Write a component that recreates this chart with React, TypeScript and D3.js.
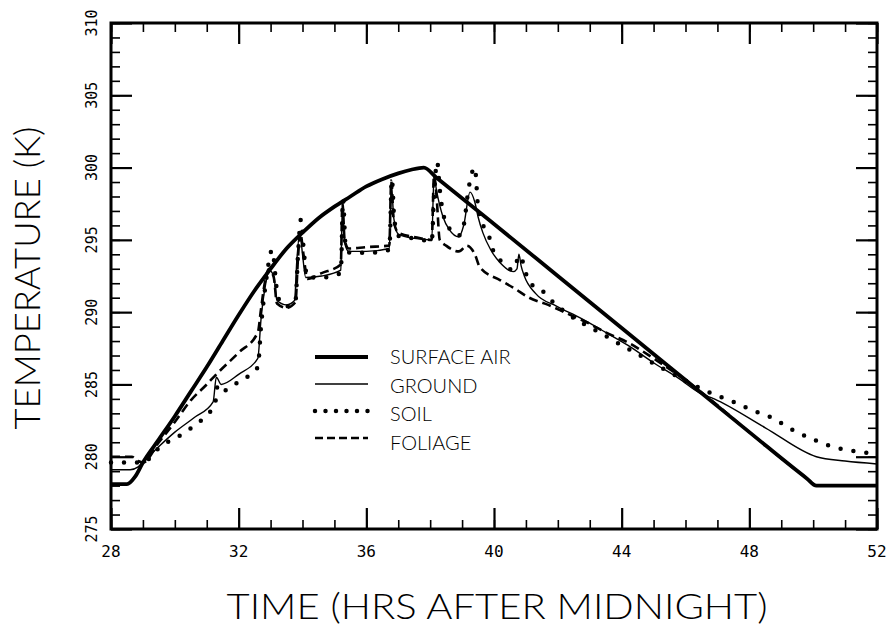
import * as d3 from "d3";
import { useEffect, useRef } from "react";

// axis ticks
const hourTicks = [28, 32, 36, 40, 44, 48, 52];
const tempTicks = [275, 280, 285, 290, 295, 300, 305, 310];

// surface air (thick solid)
const airHours = [28, 28.5, 28.75, 29, 29.5, 30, 30.5, 31, 31.5, 32, 32.5, 33, 33.5, 34, 34.5, 35, 35.5, 36, 36.5, 37, 37.4, 37.8, 38.2, 40, 42, 44, 46, 48, 49.8, 50.1, 52];
const airTemps = [278.1, 278.1, 278.6, 279.6, 281.2, 282.8, 284.5, 286.2, 288.0, 289.8, 291.5, 293.0, 294.4, 295.5, 296.5, 297.3, 298.0, 298.7, 299.2, 299.6, 299.85, 300.0, 299.3, 296.1, 292.5, 288.9, 285.3, 281.7, 278.5, 278.0, 278.0];

// ground (thin solid)
const groundHours = [28, 28.6, 28.85, 29, 29.5, 30, 30.6, 31.2, 31.3, 31.45, 32, 32.6, 32.7, 32.85, 32.95, 33.1, 33.2, 33.5, 33.75, 33.82, 33.92, 34, 34.1, 34.6, 35.2, 35.25, 35.32, 35.45, 36, 36.72, 36.78, 36.86, 37, 37.5, 38.05, 38.12, 38.2, 38.4, 38.6, 38.9, 39.05, 39.25, 39.4, 39.5, 39.65, 39.9, 40.2, 40.6, 40.72, 40.78, 40.85, 40.95, 41.3, 41.97, 42.7, 43.5, 44.2, 45, 45.8, 46.45, 46.9, 48.5, 50.1, 51, 52];
const groundTemps = [279.1, 279.1, 279.3, 279.6, 280.7, 281.7, 282.7, 283.8, 285.5, 285.0, 285.7, 286.8, 289.5, 292.0, 292.9, 292.5, 290.8, 290.5, 290.8, 293.5, 295.5, 294.0, 292.4, 292.5, 292.9, 297.5, 294.8, 294.2, 294.2, 294.4, 299.0, 296.5, 295.4, 295.1, 295.0, 299.4, 298.4, 296.6, 295.7, 295.2, 296.0, 298.3, 297.6, 296.6, 295.5, 294.3, 293.4, 292.8, 293.0, 294.0, 293.2, 292.5, 291.3, 290.4, 289.6, 288.6, 287.7, 286.5, 285.4, 284.4, 284.0, 282.0, 280.0, 279.7, 279.5];

// soil (dotted)
const soilHours = [28, 28.7, 29, 29.5, 30.4, 31.1, 31.25, 31.35, 31.6, 32, 32.6, 32.7, 32.85, 33.05, 33.2, 33.35, 33.6, 33.78, 33.86, 33.95, 34.05, 34.15, 34.6, 35.2, 35.27, 35.35, 35.5, 36, 36.72, 36.8, 36.88, 37.05, 37.5, 38.05, 38.12, 38.22, 38.3, 38.4, 38.6, 38.9, 39.05, 39.2, 39.4, 39.5, 39.7, 39.85, 40, 40.3, 40.6, 40.8, 41.1, 41.5, 41.85, 42.3, 42.8, 43.3, 43.85, 44.5, 45.2, 45.8, 46.4, 46.9, 47.5, 48.1, 48.7, 49.4, 50, 50.6, 51.25, 52];
const soilTemps = [279.6, 279.6, 279.6, 280.6, 281.8, 283.1, 283.5, 285.0, 284.6, 285.2, 286.2, 289.0, 292.0, 294.3, 291.5, 290.5, 290.4, 290.8, 294.0, 296.4, 294.0, 292.4, 292.4, 292.7, 297.8, 294.6, 294.1, 294.1, 294.3, 299.2, 296.3, 295.2, 295.1, 294.9, 298.0, 300.4, 298.5, 296.9, 295.8, 295.3, 296.0, 298.5, 300.0, 297.3, 295.8, 295.2, 294.1, 293.4, 292.9, 293.9, 292.1, 291.5, 290.7, 289.9, 289.2, 288.6, 287.9, 287.1, 286.2, 285.5, 284.8, 284.3, 283.8, 283.2, 282.7, 281.8, 281.2, 280.7, 280.4, 280.2];

// foliage (dashed)
const foliageHours = [28, 28.65, 28.85, 29, 29.5, 30, 30.5, 31, 31.3, 32, 32.6, 32.7, 32.8, 32.95, 33.1, 33.2, 33.5, 33.78, 33.86, 33.93, 34.03, 34.15, 34.6, 35.2, 35.25, 35.32, 35.45, 36, 36.72, 36.78, 36.86, 37, 37.5, 38.05, 38.12, 38.2, 38.3, 38.5, 38.9, 39.15, 39.4, 39.56, 40.2, 40.6, 41.1, 41.7, 42.3, 42.9, 43.5, 44.2, 45, 45.8, 46.3, 48, 49.8, 50.1, 52];
const foliageTemps = [280.0, 280.0, 279.7, 279.6, 281.0, 282.4, 283.9, 285.0, 285.7, 287.2, 288.6, 290.2, 291.8, 293.0, 292.4, 290.6, 290.3, 290.7, 293.8, 295.5, 294.0, 292.3, 292.7, 293.3, 297.6, 295.0, 294.4, 294.5, 294.6, 299.1, 296.3, 295.5, 295.2, 295.0, 299.5, 298.0, 295.0, 294.6, 294.2, 294.6, 294.0, 293.1, 292.2, 291.7, 291.0, 290.5, 289.9, 289.3, 288.6, 287.9, 286.8, 285.6, 284.8, 281.7, 278.5, 278.0, 278.0];

const seriesNames = ["SURFACE AIR", "GROUND", "SOIL", "FOLIAGE"];

const FONT = "Lato, 'DejaVu Sans', sans-serif";
const MONO = "'DejaVu Sans Mono', monospace";

export default function App() {
  const ref = useRef<SVGSVGElement>(null);

  useEffect(() => {
    const svg = d3.select(ref.current);
    svg.selectAll("*").remove();

    const x = d3.scaleLinear().domain([28, 52]).range([111, 877]);
    const y = d3.scaleLinear().domain([275, 310]).range([529, 23]);

    const styles = [
      { width: 3.8, dash: null, cap: "butt" },
      { width: 1.4, dash: null, cap: "butt" },
      { width: 4.5, dash: "0 13", cap: "round" },
      { width: 2.6, dash: "9 5", cap: "butt" },
    ];
    const legendDash = [null, null, "0 10.5", "8 4"];

    const pairs = (h: number[], t: number[]) => h.map((d, i) => [d, t[i]] as [number, number]);
    const series = [
      pairs(airHours, airTemps),
      pairs(groundHours, groundTemps),
      pairs(soilHours, soilTemps),
      pairs(foliageHours, foliageTemps),
    ];

    const line = d3.line<[number, number]>()
      .x(d => x(d[0]))
      .y(d => y(d[1]))
      .curve(d3.curveMonotoneX);

    const g = svg.append("g");

    // ticks, minor then major, all four sides
    const minorH = d3.range(28, 53, 1);
    const minorT = d3.range(275, 311, 1);
    const axes = [
      { ax: d3.axisBottom(x), tr: "translate(0,529)", minor: minorH, major: hourTicks },
      { ax: d3.axisTop(x), tr: "translate(0,23)", minor: minorH, major: hourTicks },
      { ax: d3.axisLeft(y), tr: "translate(111,0)", minor: minorT, major: tempTicks },
      { ax: d3.axisRight(y), tr: "translate(877,0)", minor: minorT, major: tempTicks },
    ];
    axes.forEach(a => {
      g.append("g").attr("transform", a.tr)
        .call(a.ax.tickValues(a.minor).tickSize(-9).tickFormat(() => ""))
        .call(s => s.select(".domain").remove())
        .selectAll("line").attr("stroke", "#000").attr("stroke-width", 1.6);
      g.append("g").attr("transform", a.tr)
        .call(a.ax.tickValues(a.major).tickSize(-21).tickFormat(() => ""))
        .call(s => s.select(".domain").remove())
        .selectAll("line").attr("stroke", "#000").attr("stroke-width", 2.2);
    });

    // frame
    g.append("rect")
      .attr("x", x(28)).attr("y", y(310))
      .attr("width", x(52) - x(28)).attr("height", y(275) - y(310))
      .attr("fill", "none").attr("stroke", "#000").attr("stroke-width", 3);

    // tick labels
    g.selectAll(".xl").data(hourTicks).join("text")
      .attr("x", d => x(d)).attr("y", 557)
      .attr("text-anchor", "middle")
      .attr("font-family", MONO).attr("font-size", 16)
      .text(d => d);
    g.selectAll(".yl").data(tempTicks).join("text")
      .attr("transform", d => `translate(97,${y(d)}) rotate(-90)`)
      .attr("text-anchor", "middle")
      .attr("font-family", MONO).attr("font-size", 15)
      .text(d => d);

    // axis titles
    g.append("text")
      .attr("x", 497).attr("y", 619)
      .attr("text-anchor", "middle")
      .attr("font-family", FONT).attr("font-size", 36).attr("font-weight", 300)
      .attr("textLength", 541).attr("lengthAdjust", "spacingAndGlyphs")
      .text("TIME (HRS AFTER MIDNIGHT)");
    g.append("text")
      .attr("transform", "translate(40,278) rotate(-90)")
      .attr("text-anchor", "middle")
      .attr("font-family", FONT).attr("font-size", 36).attr("font-weight", 300)
      .attr("textLength", 303).attr("lengthAdjust", "spacingAndGlyphs")
      .text("TEMPERATURE  (K)");

    // curves
    series.forEach((s, i) => {
      g.append("path")
        .attr("d", line(s))
        .attr("fill", "none")
        .attr("stroke", "#000")
        .attr("stroke-width", styles[i].width)
        .attr("stroke-linecap", styles[i].cap)
        .attr("stroke-linejoin", "round")
        .attr("stroke-dasharray", styles[i].dash);
    });

    // legend
    const lineY = [357, 384, 411, 438];
    const textY = [364, 393, 421, 450];
    seriesNames.forEach((name, i) => {
      g.append("line")
        .attr("x1", 315).attr("x2", 368)
        .attr("y1", lineY[i]).attr("y2", lineY[i])
        .attr("stroke", "#000")
        .attr("stroke-width", styles[i].width)
        .attr("stroke-linecap", styles[i].cap)
        .attr("stroke-dasharray", legendDash[i]);
      g.append("text")
        .attr("x", 390).attr("y", textY[i])
        .attr("font-family", FONT).attr("font-size", 20).attr("font-weight", 300)
        .text(name);
    });
  }, []);

  return (
    <svg ref={ref} width={886} height={629}
      style={{ position: "absolute", left: 0, top: 0, background: "#fff" }} />
  );
}
